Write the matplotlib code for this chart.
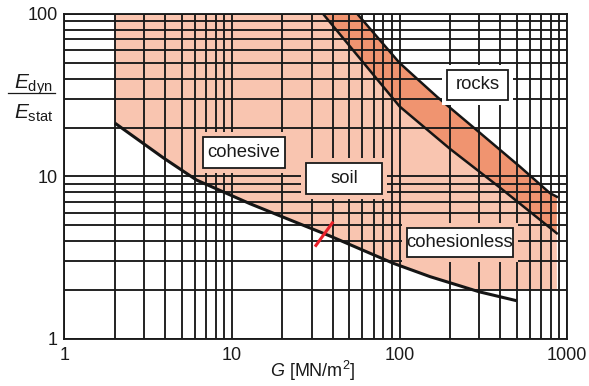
import matplotlib
matplotlib.use("Agg")
import matplotlib.pyplot as plt
from matplotlib.patches import Polygon, Rectangle
from matplotlib.lines import Line2D
from matplotlib.ticker import LogLocator, NullFormatter
import numpy as np

plt.rcParams["font.family"] = ["Liberation Sans", "DejaVu Sans"]
plt.rcParams["mathtext.fontset"] = "custom"
plt.rcParams["mathtext.rm"] = "Liberation Sans"
plt.rcParams["mathtext.it"] = "Liberation Sans:italic"

# ---- data -------------------------------------------------------------
# lower bound of the soil field (cohesive -> cohesionless)
soil_lower_G = [2, 3.9, 6.15, 12.8, 25.5, 38.5, 92, 152, 300, 500]
soil_lower_ratio = [21.3, 13.0, 9.5, 6.8, 5.1, 4.3, 2.92, 2.42, 1.95, 1.72]
soil_floor_ratio = 2.0
soil_right_G = 870

# rock band: upper and lower boundary
rock_upper_G = [56, 100, 167, 303, 523, 790, 870]
rock_upper_ratio = [100, 50, 31, 18.5, 11.5, 7.9, 7.5]
rock_lower_G = [35, 100, 200, 400, 869]
rock_lower_ratio = [100, 27, 14.8, 8.5, 4.47]

# red marker across the lower bound
marker_G = [31.3, 40.2]
marker_ratio = [3.7, 5.27]

x_ticks = [1, 10, 100, 1000]
x_tick_labels = ["1", "10", "100", "1000"]
y_ticks = [1, 10, 100]
y_tick_labels = ["1", "10", "100"]

SOIL_COLOR = "#f9c5b0"
ROCK_COLOR = "#f09470"
GRID_COLOR = "#1a1a1a"

# ---- figure -----------------------------------------------------------
fig = plt.figure(figsize=(5.89, 3.86), dpi=100)
ax = fig.add_axes([0.1095, 0.1218, 0.8532, 0.8420])
ax.set_xscale("log")
ax.set_yscale("log")
ax.set_xlim(1, 1000)
ax.set_ylim(1, 100)

ax.set_xticks(x_ticks, labels=x_tick_labels)
ax.set_yticks(y_ticks, labels=y_tick_labels)
ax.xaxis.set_minor_locator(LogLocator(base=10, subs=np.arange(2, 10)))
ax.yaxis.set_minor_locator(LogLocator(base=10, subs=np.arange(2, 10)))
ax.xaxis.set_minor_formatter(NullFormatter())
ax.yaxis.set_minor_formatter(NullFormatter())
ax.tick_params(which="both", length=0, labelsize=13, colors="#1a1a1a")
ax.tick_params(axis="x", pad=5.5)
ax.tick_params(axis="y", pad=5)
ax.set_axisbelow(False)
ax.grid(which="both", color=GRID_COLOR, lw=1.35)
for sp in ax.spines.values():
    sp.set_color(GRID_COLOR)
    sp.set_linewidth(1.35)
    sp.set_zorder(2.6)

# soil field
soil_pts = [(soil_lower_G[0], 100)]
soil_pts += [(g, max(r, soil_floor_ratio)) for g, r in zip(soil_lower_G, soil_lower_ratio)]
soil_pts += [(soil_right_G, soil_floor_ratio)]
soil_pts += list(zip(rock_lower_G[::-1], rock_lower_ratio[::-1]))
ax.add_patch(Polygon(soil_pts, closed=True, facecolor=SOIL_COLOR,
                     edgecolor="none", zorder=1, transform=ax.transData))

# rock band
rock_pts = list(zip(rock_upper_G, rock_upper_ratio))
rock_pts += list(zip(rock_lower_G[::-1], rock_lower_ratio[::-1]))
ax.add_patch(Polygon(rock_pts, closed=True, facecolor=ROCK_COLOR,
                     edgecolor="none", zorder=1.1, transform=ax.transData))

# boundaries
ax.plot(soil_lower_G, soil_lower_ratio, color="#151515", lw=2.2, zorder=3,
        solid_capstyle="butt", solid_joinstyle="round")
ax.plot(rock_upper_G, rock_upper_ratio, color="#151515", lw=1.8, zorder=3,
        solid_joinstyle="round")
ax.plot(rock_lower_G, rock_lower_ratio, color="#151515", lw=1.8, zorder=3,
        solid_joinstyle="round")
ax.plot(marker_G, marker_ratio, color="#e8202a", lw=2.2, zorder=3.5,
        solid_capstyle="butt")

# labelled boxes (axes fraction: x0, y0, x1, y1), surrounded by a clear margin
labels = [
    ("cohesive", (0.2756, 0.526, 0.4388, 0.6215), SOIL_COLOR),
    ("soil", (0.4806, 0.4462, 0.6318, 0.5415), SOIL_COLOR),
    ("rocks", (0.7606, 0.7354, 0.8826, 0.8277), "white"),
    ("cohesionless", (0.681, 0.2532, 0.8925, 0.3406), SOIL_COLOR),
]
mx, my = 5 / 502.5, 5 / 325
for text, (x0, y0, x1, y1), bg in labels:
    ax.add_patch(Rectangle((x0 - mx, y0 - my), x1 - x0 + 2 * mx, y1 - y0 + 2 * my,
                           transform=ax.transAxes, facecolor=bg,
                           edgecolor="none", zorder=4))
    ax.add_patch(Rectangle((x0, y0), x1 - x0, y1 - y0, transform=ax.transAxes,
                           facecolor="white", edgecolor=GRID_COLOR, lw=1.3,
                           zorder=5))
    ax.text((x0 + x1) / 2, (y0 + y1) / 2, text, transform=ax.transAxes,
            ha="center", va="center", fontsize=13.3, color="#1a1a1a", zorder=6)

# axis titles
fig.text(313 / 589, 1 - 376.7 / 386, r"$G$ [MN/m$^2$]", ha="center",
         va="baseline", fontsize=13, color="#1a1a1a")
fig.text(33.3 / 589, 1 - 88.3 / 386, r"$E_{\mathrm{dyn}}$", ha="center",
         va="baseline", fontsize=15, color="#1a1a1a")
fig.text(34 / 589, 1 - 118.3 / 386, r"$E_{\mathrm{stat}}$", ha="center",
         va="baseline", fontsize=15, color="#1a1a1a")
fig.add_artist(Line2D([8.3 / 589, 55 / 589], [1 - 93.3 / 386, 1 - 93.3 / 386],
                      transform=fig.transFigure, color="#1a1a1a", lw=0.9))

fig.savefig("out.png", dpi=100)
